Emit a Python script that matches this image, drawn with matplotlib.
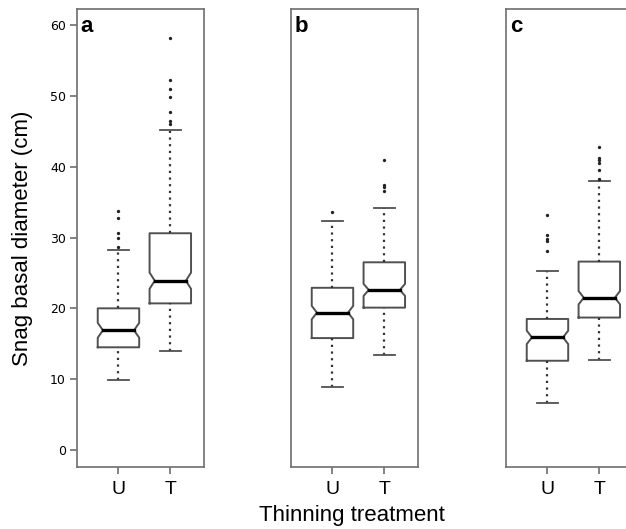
import matplotlib
matplotlib.use("Agg")
import matplotlib.pyplot as plt

# values (cm)
panels = ["a", "b", "c"]
groups = ["U", "T"]

q1 = [[14.5, 20.7], [15.8, 20.1], [12.6, 18.7]]
med = [[16.9, 23.9], [19.4, 22.6], [15.9, 21.5]]
q3 = [[20.0, 30.6], [22.9, 26.5], [18.5, 26.6]]
whislo = [[9.9, 14.0], [8.9, 13.4], [6.6, 12.7]]
whishi = [[28.3, 45.2], [32.4, 34.1], [25.3, 38.0]]
notch = [[1.05, 1.15], [0.95, 0.85], [0.95, 0.95]]
fliers = [
    [[33.7, 32.7, 30.6, 29.9, 28.7], [58.2, 52.2, 51.0, 49.9, 47.7, 46.5, 46.0]],
    [[33.6], [41.0, 37.4, 37.1, 36.5]],
    [[33.2, 30.4, 29.8, 29.5, 28.1], [42.8, 41.2, 40.9, 40.5, 39.5, 38.2]],
]
yticks = [0, 10, 20, 30, 40, 50, 60]

W, H = 626, 529
fig = plt.figure(figsize=(W / 100, H / 100), dpi=100)

lefts = [77, 291, 506]
box_col = "#505050"
spine_col = "#6e6e6e"

for i, p in enumerate(panels):
    ax = fig.add_axes([lefts[i] / W, 1 - 467 / H, 127 / W, 458 / H])
    ax.set_xlim(0.2, 2.65)
    ax.set_ylim(-2.4, 62.26)
    for j in range(2):
        x = j + 1
        w = 0.4
        nw = 0.3
        lo = med[i][j] - notch[i][j]
        hi = med[i][j] + notch[i][j]
        xs = [x - w, x - w, x - nw, x - w, x - w, x + w, x + w, x + nw, x + w, x + w, x - w]
        ys = [q1[i][j], lo, med[i][j], hi, q3[i][j], q3[i][j], hi, med[i][j], lo, q1[i][j], q1[i][j]]
        ax.plot(xs, ys, color=box_col, lw=1.4, solid_joinstyle="round")
        ax.plot([x - nw, x + nw], [med[i][j]] * 2, color="black", lw=2.4)
        # whiskers
        ax.plot([x, x], [q3[i][j], whishi[i][j]], color="#333333", lw=1.6,
                linestyle=(0, (1, 2.0)))
        ax.plot([x, x], [whislo[i][j], q1[i][j]], color="#333333", lw=1.6,
                linestyle=(0, (1, 2.0)))
        for v in (whislo[i][j], whishi[i][j]):
            ax.plot([x - 0.2, x + 0.2], [v, v], color=box_col, lw=1.3)
        ax.plot([x] * len(fliers[i][j]), fliers[i][j], "o", color="#222222",
                ms=2.4, mew=0)

    for s in ax.spines.values():
        s.set_color(spine_col)
        s.set_linewidth(1.2)
    ax.set_xticks([1, 2])
    ax.set_xticklabels(groups, fontsize=14, family="Liberation Sans")
    ax.tick_params(axis="x", length=5, width=1.2, color=spine_col, pad=5)
    if i == 0:
        ax.set_yticks(yticks)
        ax.set_yticklabels([str(t) for t in yticks], fontsize=9, family="DejaVu Sans")
        ax.tick_params(axis="y", length=5, width=1.2, color=spine_col, pad=3)
        ax.set_ylabel("Snag basal diameter (cm)", fontsize=16,
                      family="Liberation Sans", labelpad=12)
    else:
        ax.set_yticks([])
    ax.text(0.03, 0.985, p, transform=ax.transAxes, ha="left", va="top",
            fontsize=16, fontweight="bold", family="Liberation Sans")

fig.text(352 / W, 1 - 515 / H, "Thinning treatment", ha="center", va="center",
         fontsize=16, family="Liberation Sans")

fig.savefig("out.png", dpi=100)
